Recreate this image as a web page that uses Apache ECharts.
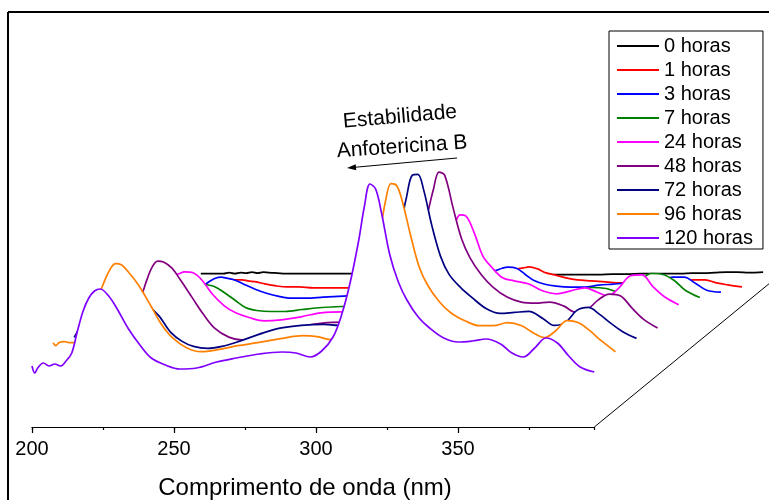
<!DOCTYPE html>
<html>
<head>
<meta charset="utf-8">
<script src="https://cdn.jsdelivr.net/npm/echarts@6/dist/echarts.min.js"></script>
<style>html,body{margin:0;padding:0;background:#fff}#c{width:769px;height:500px}</style>
</head>
<body>
<div id="c"></div>
<script>
// ---- data ----
const wavelengths = [200, 201, 202, 204, 206, 208, 210, 212, 214, 216, 218, 220, 222, 224, 227, 230, 234, 238, 242, 247, 252, 258, 265, 272, 280, 288, 293, 298, 302, 306, 309, 312, 315, 317, 319, 321, 323, 326, 329, 332, 336, 340, 345, 350, 355, 360, 365, 369, 373, 377, 381, 385, 389, 393, 398];
const seriesNames = ['0 horas', '1 horas', '3 horas', '7 horas', '24 horas', '48 horas', '72 horas', '96 horas', '120 horas'];
const abs0h = [0.15, 0.15, 0.15, 0.15, 0.15, 0.15, 0.16, 0.15, 0.16, 0.155, 0.165, 0.155, 0.165, 0.16, 0.155, 0.15, 0.15, 0.15, 0.15, 0.15, 0.15, 0.15, 0.145, 0.145, 0.145, 0.145, 0.14, 0.14, 0.14, 0.14, 0.14, 0.14, 0.14, 0.14, 0.14, 0.14, 0.14, 0.14, 0.14, 0.14, 0.14, 0.14, 0.145, 0.145, 0.15, 0.15, 0.15, 0.15, 0.155, 0.155, 0.16, 0.165, 0.165, 0.16, 0.165];
const abs1h = [0.15, 0.15, 0.15, 0.16, 0.17, 0.19, 0.21, 0.23, 0.25, 0.26, 0.26, 0.26, 0.26, 0.25, 0.24, 0.22, 0.20, 0.19, 0.19, 0.18, 0.18, 0.18, 0.18, 0.19, 0.20, 0.21, 0.22, 0.23, 0.25, 0.28, 0.31, 0.33, 0.35, 0.36, 0.37, 0.38, 0.39, 0.37, 0.33, 0.31, 0.28, 0.26, 0.25, 0.24, 0.23, 0.23, 0.23, 0.23, 0.24, 0.25, 0.26, 0.26, 0.23, 0.21, 0.19];
const abs3h = [0.22, 0.22, 0.22, 0.23, 0.24, 0.26, 0.29, 0.33, 0.36, 0.38, 0.42, 0.45, 0.46, 0.45, 0.43, 0.39, 0.34, 0.30, 0.27, 0.25, 0.25, 0.26, 0.27, 0.28, 0.29, 0.30, 0.31, 0.32, 0.34, 0.38, 0.42, 0.46, 0.50, 0.52, 0.53, 0.55, 0.56, 0.55, 0.49, 0.43, 0.39, 0.37, 0.36, 0.36, 0.38, 0.39, 0.40, 0.40, 0.41, 0.43, 0.46, 0.46, 0.40, 0.33, 0.31];
const abs7h = [0.30, 0.30, 0.30, 0.31, 0.33, 0.36, 0.40, 0.45, 0.50, 0.54, 0.57, 0.58, 0.58, 0.56, 0.54, 0.49, 0.41, 0.33, 0.30, 0.29, 0.29, 0.31, 0.33, 0.34, 0.35, 0.36, 0.37, 0.38, 0.42, 0.48, 0.55, 0.63, 0.72, 0.77, 0.80, 0.78, 0.72, 0.64, 0.58, 0.54, 0.51, 0.49, 0.47, 0.46, 0.48, 0.53, 0.52, 0.49, 0.52, 0.60, 0.67, 0.66, 0.60, 0.50, 0.43];
const abs24h = [0.40, 0.40, 0.40, 0.41, 0.43, 0.47, 0.52, 0.58, 0.66, 0.73, 0.78, 0.82, 0.84, 0.86, 0.85, 0.78, 0.63, 0.52, 0.45, 0.40, 0.37, 0.38, 0.41, 0.45, 0.46, 0.46, 0.46, 0.47, 0.50, 0.58, 0.68, 0.82, 1.00, 1.15, 1.32, 1.43, 1.42, 1.25, 1.02, 0.91, 0.80, 0.77, 0.74, 0.67, 0.64, 0.67, 0.70, 0.66, 0.62, 0.70, 0.82, 0.83, 0.71, 0.61, 0.53];
const abs48h = [0.45, 0.45, 0.45, 0.46, 0.48, 0.52, 0.58, 0.64, 0.71, 0.78, 0.94, 1.08, 1.14, 1.13, 1.07, 0.95, 0.78, 0.61, 0.47, 0.38, 0.35, 0.37, 0.42, 0.48, 0.52, 0.53, 0.52, 0.52, 0.56, 0.70, 0.88, 1.12, 1.42, 1.62, 1.85, 2.03, 2.00, 1.67, 1.36, 1.17, 1.00, 0.88, 0.78, 0.73, 0.72, 0.73, 0.69, 0.63, 0.65, 0.75, 0.81, 0.79, 0.67, 0.56, 0.47];
const abs72h = [0.55, 0.60, 0.64, 0.66, 0.68, 0.70, 0.75, 0.82, 0.90, 0.97, 1.02, 1.05, 1.05, 0.97, 0.85, 0.76, 0.60, 0.51, 0.46, 0.44, 0.46, 0.51, 0.58, 0.64, 0.67, 0.68, 0.67, 0.67, 0.69, 0.80, 0.98, 1.25, 1.68, 1.95, 2.17, 2.18, 2.03, 1.66, 1.36, 1.18, 1.05, 0.95, 0.84, 0.79, 0.80, 0.81, 0.74, 0.67, 0.70, 0.82, 0.85, 0.78, 0.69, 0.61, 0.54];
const abs96h = [0.67, 0.64, 0.67, 0.68, 0.67, 0.67, 0.72, 0.83, 0.98, 1.13, 1.28, 1.40, 1.46, 1.45, 1.36, 1.25, 1.06, 0.86, 0.72, 0.62, 0.58, 0.60, 0.64, 0.67, 0.71, 0.74, 0.73, 0.70, 0.72, 0.85, 1.05, 1.35, 1.75, 2.08, 2.26, 2.24, 2.08, 1.73, 1.42, 1.24, 1.08, 0.97, 0.89, 0.84, 0.84, 0.87, 0.84, 0.77, 0.72, 0.79, 0.89, 0.87, 0.79, 0.69, 0.58];
const abs120h = [0.61, 0.54, 0.59, 0.64, 0.61, 0.63, 0.61, 0.66, 0.74, 0.96, 1.16, 1.29, 1.36, 1.38, 1.31, 1.18, 0.98, 0.82, 0.69, 0.62, 0.58, 0.59, 0.65, 0.69, 0.73, 0.75, 0.74, 0.70, 0.76, 0.90, 1.12, 1.44, 1.86, 2.20, 2.43, 2.38, 2.15, 1.72, 1.45, 1.27, 1.10, 0.99, 0.89, 0.85, 0.86, 0.88, 0.83, 0.74, 0.70, 0.79, 0.89, 0.84, 0.71, 0.60, 0.55];
const absorbances = [abs0h, abs1h, abs3h, abs7h, abs24h, abs48h, abs72h, abs96h, abs120h];
const xTickInterval = 50;

// ---- styles / layout ----
const colors = ['#000000', '#ff0000', '#0000ff', '#008000', '#ff00ff', '#800080', '#000080', '#ff8000', '#8000ff'];
const FONT = '"Liberation Sans", Arial, sans-serif';
const X_MIN = 200, X_MAX = 398, Y_MAX = 2.6;
const FRONT_LEFT = 32, FLOOR_Y = 427;
const STEP_X = 21.1, STEP_Y = 17.3;
const PX_PER_NM = 2.84, PX_PER_UNIT = 100;
const N = seriesNames.length;

const grids = [], xAxes = [], yAxes = [], series = [];
for (let i = 0; i < N; i++) {
  const k = N - 1 - i; // steps back from the front
  const floor = FLOOR_Y - STEP_Y * k;
  grids.push({
    left: FRONT_LEFT + STEP_X * k,
    top: floor - Y_MAX * PX_PER_UNIT,
    width: (X_MAX - X_MIN) * PX_PER_NM,
    height: Y_MAX * PX_PER_UNIT,
    containLabel: false,
    outerBoundsMode: 'none'
  });
  const front = (k === 0);
  xAxes.push({
    gridIndex: i, type: 'value', min: X_MIN, max: X_MAX, interval: xTickInterval,
    show: front, position: 'bottom', z: 50,
    axisLine: { show: front, onZero: false, lineStyle: { color: '#000', width: 1.2 } },
    axisTick: { show: front, inside: false, length: 6, lineStyle: { color: '#000', width: 1.2 } },
    axisLabel: { show: front, color: '#000', fontSize: 20, fontFamily: FONT, margin: 12, showMaxLabel: false },
    splitLine: { show: false }
  });
  yAxes.push({ gridIndex: i, type: 'value', min: 0, max: Y_MAX, show: false, splitLine: { show: false } });
  series.push({
    name: seriesNames[i], type: 'line', xAxisIndex: i, yAxisIndex: i,
    data: wavelengths.map((w, j) => [w, absorbances[i][j]]),
    smooth: 0.35, symbol: 'none', silent: true,
    color: colors[i],
    lineStyle: { color: colors[i], width: 1.7 },
    areaStyle: { color: '#ffffff', opacity: 1 },
    z: 2 + i
  });
}
// minor ticks on the front axis
xAxes.push({
  gridIndex: N - 1, type: 'value', min: X_MIN, max: X_MAX, interval: xTickInterval / 2,
  position: 'bottom', z: 50,
  axisLine: { show: false },
  axisTick: { show: true, inside: false, length: 3, lineStyle: { color: '#000', width: 1.2 } },
  axisLabel: { show: false }, splitLine: { show: false }
});

const option = {
  animation: false,
  backgroundColor: '#ffffff',
  textStyle: { fontFamily: FONT },
  grid: grids, xAxis: xAxes, yAxis: yAxes, series: series,
  legend: {
    orient: 'vertical', left: 609, top: 31,
    data: seriesNames,
    icon: 'rect',
    itemWidth: 42, itemHeight: 2, itemGap: 4,
    padding: [5, 10, 1, 8],
    borderColor: '#000', borderWidth: 1,
    textStyle: { color: '#000', fontSize: 20, fontFamily: FONT, lineHeight: 20 },
    selectedMode: false
  }
};

const chart = echarts.init(document.getElementById('c'), null, { renderer: 'canvas', width: 769, height: 500 });
chart.setOption(option);

// floor diagonal, from front-right corner towards the back
const frontCorner = chart.convertToPixel({ gridIndex: N - 1 }, [X_MAX, 0]);
const backCorner = chart.convertToPixel({ gridIndex: 0 }, [X_MAX, 0]);
const diagEnd = [frontCorner[0] + (backCorner[0] - frontCorner[0]) * 1.3,
                 frontCorner[1] + (backCorner[1] - frontCorner[1]) * 1.3];

// arrow
const aFrom = [457, 158], aTo = [347, 168];
const dvx = aTo[0] - aFrom[0], dvy = aTo[1] - aFrom[1];
const dl = Math.hypot(dvx, dvy), ux = dvx / dl, uy = dvy / dl;
const hb = [aTo[0] - ux * 9, aTo[1] - uy * 9];
const head = [aTo, [hb[0] - uy * 3, hb[1] + ux * 3], [hb[0] + uy * 3, hb[1] - ux * 3]];

chart.setOption({
  graphic: [
    { type: 'line', z: 100, shape: { x1: 8, y1: 12, x2: 769, y2: 12 }, style: { stroke: '#000', lineWidth: 2 } },
    { type: 'line', z: 100, shape: { x1: 8, y1: 12, x2: 8, y2: 500 }, style: { stroke: '#000', lineWidth: 2 } },
    { type: 'line', z: 100, shape: { x1: frontCorner[0], y1: frontCorner[1], x2: diagEnd[0], y2: diagEnd[1] }, style: { stroke: '#000', lineWidth: 1 } },
    { type: 'text', z: 100, x: 305, y: 488, style: { text: 'Comprimento de onda (nm)', fontSize: 24, fontFamily: FONT, fill: '#000', align: 'center', verticalAlign: 'middle' } },
    { type: 'text', z: 100, x: 400, y: 117, rotation: 5 * Math.PI / 180, style: { text: 'Estabilidade', fontSize: 21, fontFamily: FONT, fill: '#000', align: 'center', verticalAlign: 'middle' } },
    { type: 'text', z: 100, x: 402, y: 147, rotation: 4 * Math.PI / 180, style: { text: 'Anfotericina B', fontSize: 21, fontFamily: FONT, fill: '#000', align: 'center', verticalAlign: 'middle' } },
    { type: 'line', z: 100, shape: { x1: aFrom[0], y1: aFrom[1], x2: hb[0], y2: hb[1] }, style: { stroke: '#000', lineWidth: 1 } },
    { type: 'polygon', z: 100, shape: { points: head }, style: { fill: '#000' } }
  ]
});
</script>
</body>
</html>
